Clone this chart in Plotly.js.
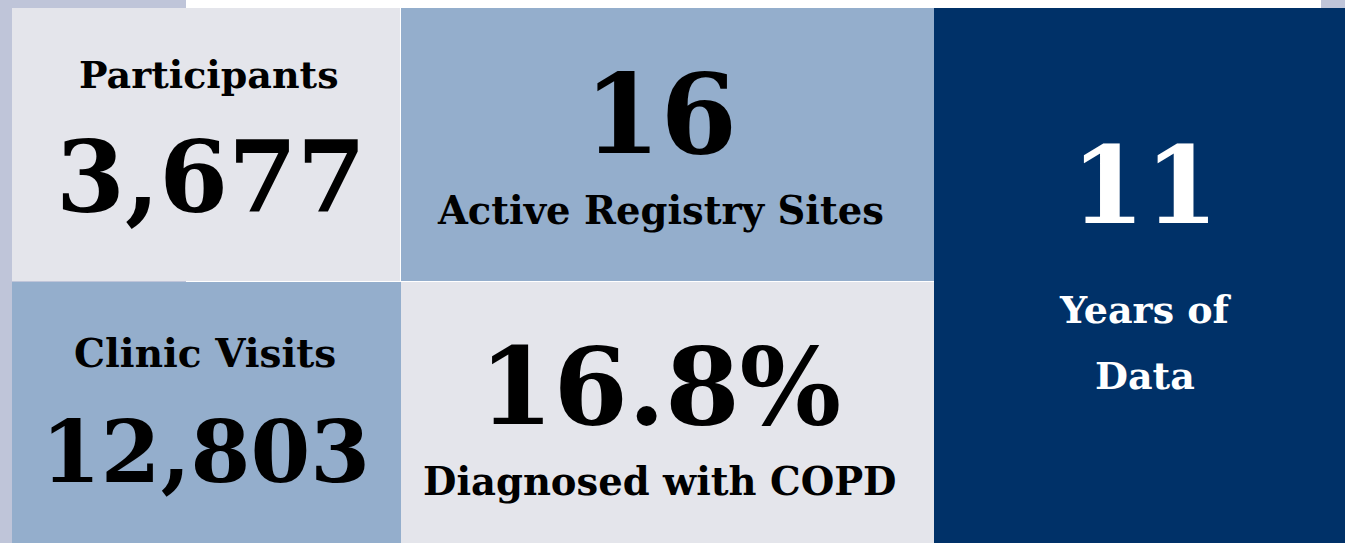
<!DOCTYPE html>
<html>
<head>
<meta charset="utf-8">
<script src="https://cdn.plot.ly/plotly-3.0.1.min.js"></script>
<style>
  html, body { margin: 0; padding: 0; background: #ffffff; }
  #chart { width: 1345px; height: 543px; }
</style>
</head>
<body>
<div id="chart"></div>
<script>
// ---- data ----
const statValues = ['3,677', '16', '11', '12,803', '16.8%'];
const statLabels = ['Participants', 'Active Registry Sites', 'Years of<br>Data', 'Clinic Visits', 'Diagnosed with COPD'];

// ---- layout config (positions / styles) ----
const W = 1345, H = 543;
const C = { lav: '#BFC5D9', grey: '#E4E5EB', blue: '#94AECC', navy: '#003168', white: '#FFFFFF' };
const tiles = [
  { x0: 12,  x1: 400,  y0: 8,   y1: 281, fill: C.grey },
  { x0: 401, x1: 934,  y0: 8,   y1: 281, fill: C.blue },
  { x0: 934, x1: 1345, y0: 8,   y1: 543, fill: C.navy },
  { x0: 12,  x1: 401,  y0: 282, y1: 543, fill: C.blue },
  { x0: 401, x1: 934,  y0: 282, y1: 543, fill: C.grey }
];
// value text placement and label placement per tile
const valuePos = [
  { x: 211, y: 177, size: 99,  color: '#000000' },
  { x: 660, y: 114, size: 110, color: '#000000' },
  { x: 1145, y: 185, size: 106, color: '#FFFFFF' },
  { x: 205, y: 451, size: 86,  color: '#000000' },
  { x: 660, y: 386, size: 107, color: '#000000' }
];
// label lines: y for each line (multi-line labels split on <br>)
const labelPos = [
  { x: 209, y: [74],       size: 38,   color: '#000000' },
  { x: 660, y: [210],      size: 38.5, color: '#000000' },
  { x: 1145, y: [309, 375], size: 38,  color: '#FFFFFF' },
  { x: 205, y: [353],      size: 39,   color: '#000000' },
  { x: 660, y: [481],      size: 38.5, color: '#000000' }
];

const FONT = 'DejaVu Serif, serif';

const shapes = [];
function rect(x0, x1, y0, y1, fill) {
  shapes.push({ type: 'rect', xref: 'x', yref: 'y', x0: x0, x1: x1, y0: y0, y1: y1, fillcolor: fill, line: { width: 0 }, layer: 'below' });
}
// background accents
rect(0, 12, 0, H, C.lav);
rect(0, 186, 0, 8, C.lav);
rect(1321, W, 0, 8, C.lav);
tiles.forEach(t => rect(t.x0, t.x1, t.y0, t.y1, t.fill));
// separator lines
rect(400, 401, 8, 282, C.white);
rect(12, 186, 281, 282, C.lav);
rect(186, 401, 281, 282, C.white);

const annotations = [];
statValues.forEach((v, i) => {
  const p = valuePos[i];
  annotations.push({ x: p.x, y: p.y, xref: 'x', yref: 'y', text: '<b>' + v + '</b>', showarrow: false,
    xanchor: 'center', yanchor: 'middle', font: { family: FONT, size: p.size, color: p.color } });
});
statLabels.forEach((l, i) => {
  const p = labelPos[i];
  l.split('<br>').forEach((line, j) => {
    annotations.push({ x: p.x, y: p.y[j], xref: 'x', yref: 'y', text: '<b>' + line + '</b>', showarrow: false,
      xanchor: 'center', yanchor: 'middle', font: { family: FONT, size: p.size, color: p.color } });
  });
});

const layout = {
  width: W, height: H,
  margin: { l: 0, r: 0, t: 0, b: 0, pad: 0 },
  paper_bgcolor: '#FFFFFF', plot_bgcolor: '#FFFFFF',
  xaxis: { range: [0, W], visible: false, fixedrange: true },
  yaxis: { range: [H, 0], visible: false, fixedrange: true },
  shapes: shapes,
  annotations: annotations,
  showlegend: false
};

Plotly.newPlot('chart', [], layout, { staticPlot: true, displayModeBar: false });
</script>
</body>
</html>
